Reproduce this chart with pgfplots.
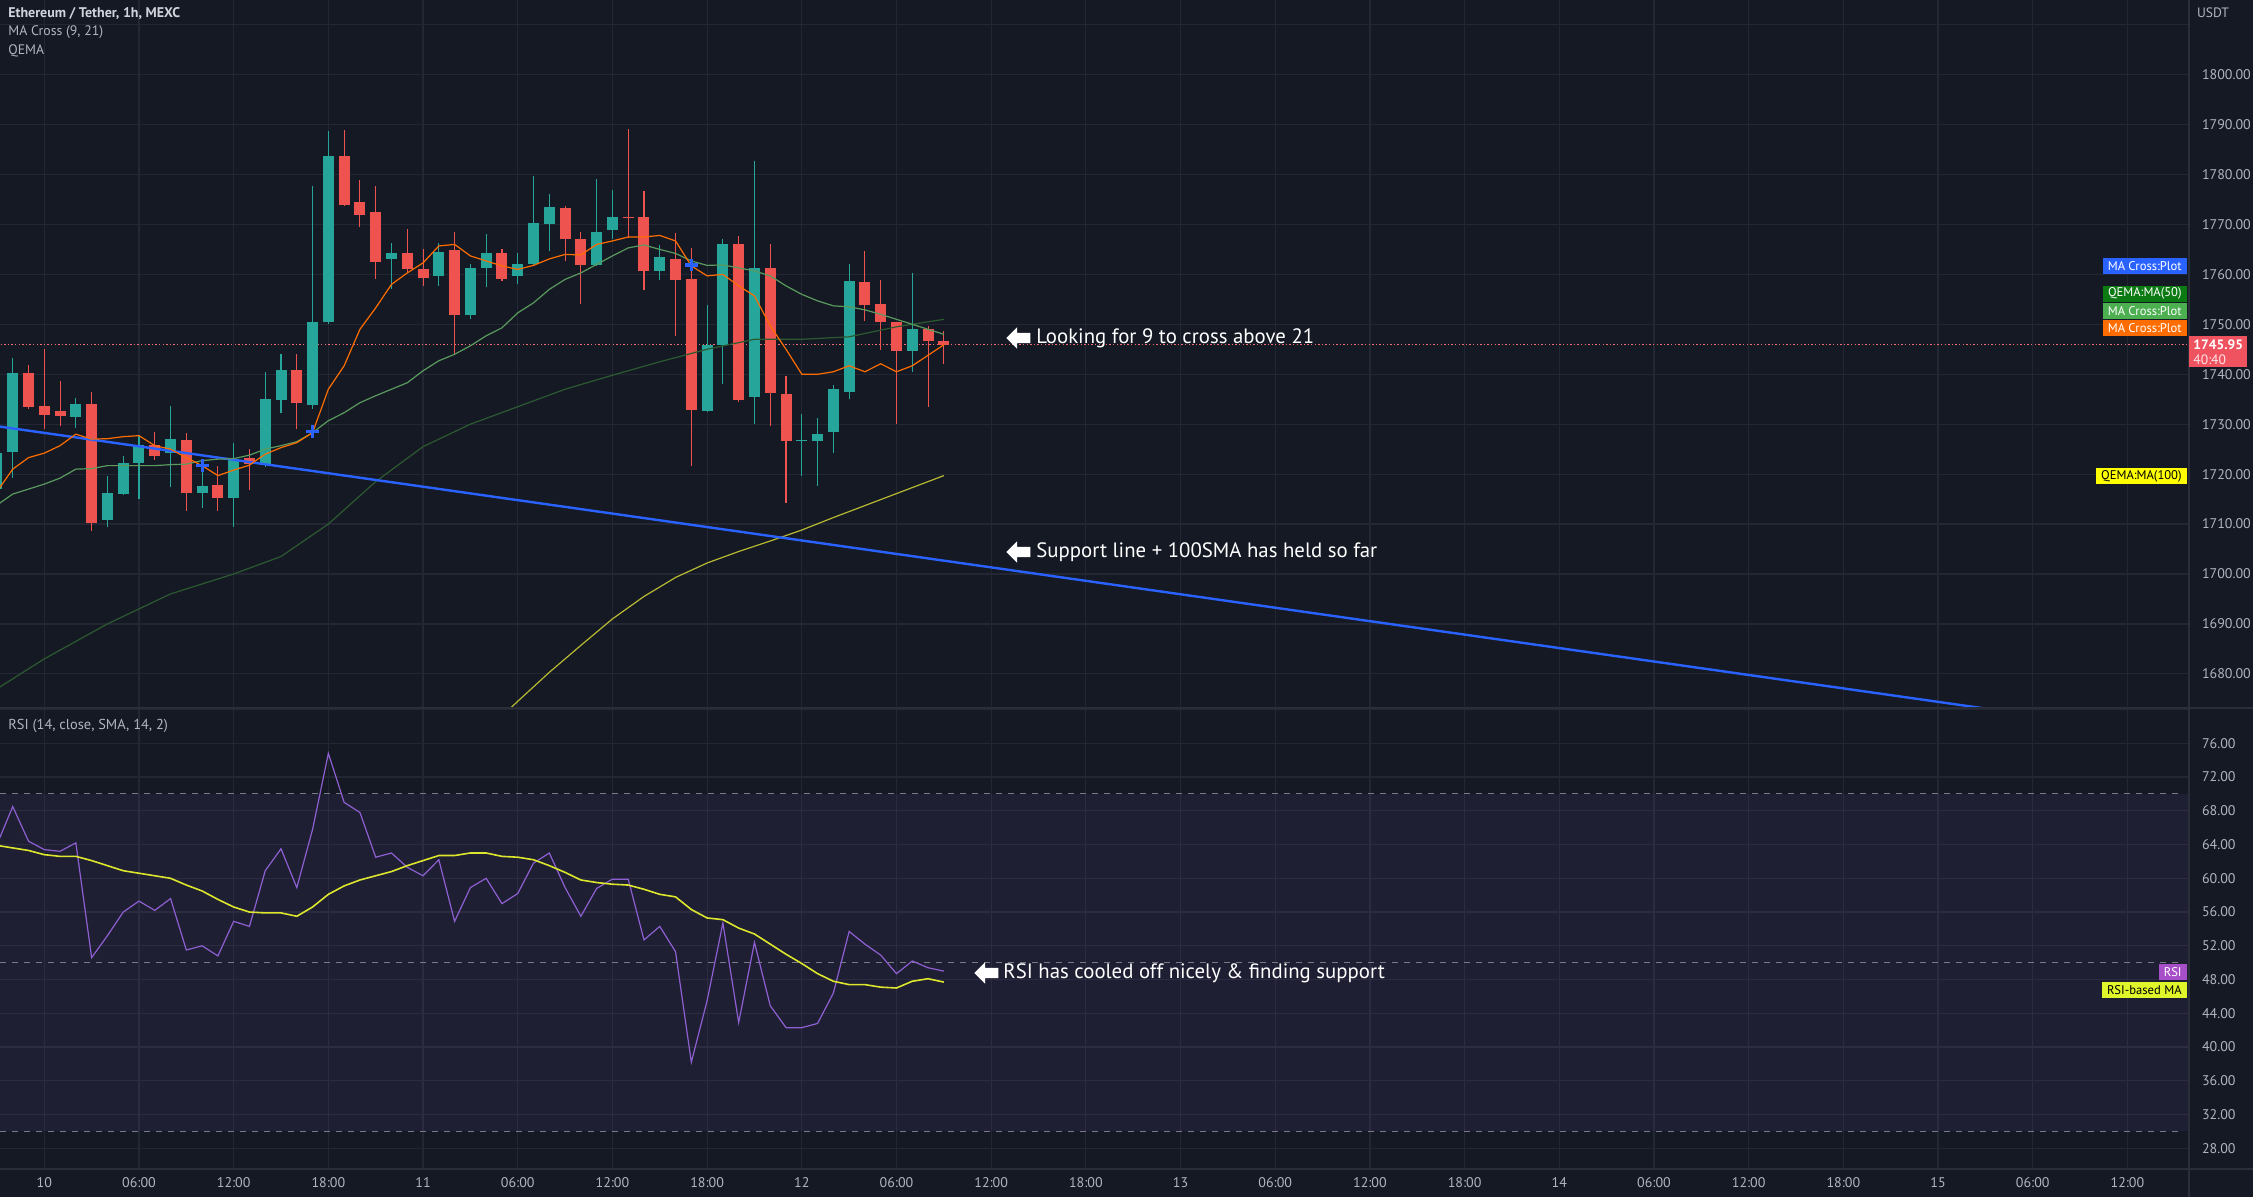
\documentclass[border=0pt]{standalone}
\usepackage{fontspec}
\setmainfont{PT Sans}
\usepackage{pgfplots}
\pgfplotsset{compat=1.18}
\usepackage{pgfplotstable}
\usetikzlibrary{shapes.arrows}

\definecolor{bg}{HTML}{151924}
\definecolor{gridc}{HTML}{232733}
\definecolor{sepc}{HTML}{2A2E39}
\definecolor{lbl}{HTML}{B2B5BE}
\definecolor{ttl}{HTML}{D1D4DC}
\definecolor{bull}{HTML}{26A69A}
\definecolor{bear}{HTML}{EF5350}
\definecolor{maorange}{HTML}{FF6D00}
\definecolor{magreen}{HTML}{5A9A5E}
\definecolor{madark}{HTML}{2C5A30}
\definecolor{mayellow}{HTML}{B8B832}
\definecolor{supblue}{HTML}{2962FF}
\definecolor{rsiline}{HTML}{8E5FD0}
\definecolor{rsima}{HTML}{DCE62C}
\definecolor{rsiband}{HTML}{7E57C2}
\definecolor{rsidash}{HTML}{787B86}
\definecolor{pricered}{HTML}{F05360}
\definecolor{lbldkgreen}{HTML}{0C7A12}
\definecolor{lblgreen}{HTML}{4CAF50}
\definecolor{lblyellow}{HTML}{FFFF00}
\definecolor{lblpurple}{HTML}{A64FC8}
\definecolor{lblrsima}{HTML}{E0F52A}

\newcommand\fs[1]{\fontsize{#1}{#1}\selectfont}

% t = hours since Jan 10 00:00
\pgfplotstableread{
t O H L C
-3 1717.0 1726.0 1715.0 1724.3
-2 1724.5 1743.3 1719.3 1740.3
2 1731.5 1735.2 1729.3 1734.0
4 1710.9 1719.7 1709.5 1716.3
5 1716.1 1723.7 1715.8 1722.3
6 1722.2 1727.8 1715.0 1725.8
8 1724.3 1733.7 1717.5 1727.0
10 1716.2 1721.7 1713.3 1717.7
12 1715.2 1726.3 1709.5 1723.1
14 1721.8 1740.5 1721.5 1735.0
15 1734.8 1744.0 1732.3 1740.8
17 1733.9 1777.7 1733.0 1750.5
18 1750.5 1788.7 1750.0 1783.8
22 1763.1 1766.2 1757.0 1764.3
25 1759.7 1766.2 1757.7 1764.5
27 1751.8 1762.1 1751.0 1761.3
28 1761.2 1768.0 1757.5 1764.3
30 1759.7 1764.3 1758.0 1762.0
31 1762.0 1779.8 1761.8 1770.2
32 1770.0 1776.1 1764.7 1773.5
35 1761.9 1779.1 1761.7 1768.5
36 1768.9 1777.0 1767.0 1771.5
39 1760.7 1765.8 1758.8 1763.5
42 1732.7 1753.8 1732.5 1745.9
43 1745.9 1767.1 1738.0 1766.0
45 1735.5 1782.7 1730.0 1761.3
48 1726.7 1732.0 1719.7 1726.9
49 1726.7 1731.3 1717.7 1728.0
50 1728.5 1737.8 1724.2 1737.0
51 1736.5 1762.0 1735.1 1758.7
55 1744.7 1760.2 1740.5 1749.0
}\bulltab

\pgfplotstableread{
t O H L C
-1 1740.2 1741.8 1733.0 1733.5
0 1733.7 1745.0 1729.0 1731.9
1 1732.6 1738.7 1729.7 1731.7
3 1734.0 1736.5 1708.7 1710.3
7 1725.8 1728.5 1722.9 1723.7
9 1726.8 1728.3 1712.7 1716.2
11 1717.8 1721.7 1712.7 1715.3
13 1723.3 1725.1 1716.9 1722.1
16 1740.8 1744.0 1729.0 1734.2
19 1783.8 1788.9 1773.7 1773.8
20 1774.5 1779.0 1769.5 1771.9
21 1772.5 1777.7 1759.1 1762.5
23 1764.3 1769.0 1760.5 1761.0
24 1761.1 1765.0 1757.7 1759.2
26 1764.8 1768.5 1744.0 1751.8
29 1764.3 1765.0 1758.7 1759.1
33 1773.3 1773.7 1762.7 1767.0
34 1767.1 1768.5 1754.0 1761.9
37 1771.4 1789.1 1767.3 1771.2
38 1771.5 1776.7 1756.9 1760.7
40 1763.0 1768.3 1747.7 1758.8
41 1759.0 1765.3 1721.7 1732.9
44 1766.0 1767.7 1734.5 1734.8
46 1761.3 1766.0 1729.7 1736.3
47 1736.0 1739.7 1714.3 1726.7
52 1758.5 1764.7 1750.7 1753.8
53 1754.0 1758.9 1744.9 1750.5
54 1750.5 1750.5 1730.0 1744.7
56 1749.0 1749.7 1733.5 1746.7
57 1746.7 1748.7 1742.0 1745.9
}\beartab

\begin{document}
\begin{tikzpicture}
\fill[bg] (0,0) rectangle (1126.5pt,598.5pt);

% ---------------- main price panel ----------------
\begin{axis}[
  at={(0pt,244.35pt)}, anchor=south west,
  width=1094.5pt, height=354.15pt, scale only axis,
  xmin=-2.807, xmax=135.9, ymin=1673.1, ymax=1814.96,
  axis line style={draw=none}, major tick length=0pt,
  xtick={0,6,...,132}, xticklabels={},
  ytick={1680,1690,...,1800},
  extra y ticks={1810}, extra y tick labels={}, extra y tick style={grid=major},
  grid=major, major grid style={gridc, line width=0.6pt},
  yticklabel pos=right,
  yticklabel style={font=\fs{7}, text=lbl, anchor=west, xshift=3pt,
    /pgf/number format/fixed, /pgf/number format/fixed zerofill,
    /pgf/number format/precision=2, /pgf/number format/1000 sep={},
    /pgf/number format/assume math mode=true},
]
% current price line
\addplot[pricered!85!white, line width=0.6pt, dash pattern=on 0.7pt off 1.1pt] coordinates {(-3,1745.95) (137,1745.95)};

% wicks
\addplot[draw=none, mark=none, forget plot, error bars/.cd, y dir=plus, y explicit, error mark=none,
  error bar style={draw=bull, line width=0.55pt}]
  table[x=t, y=L, y error plus expr=\thisrow{H}-\thisrow{L}] {\bulltab};
\addplot[draw=none, mark=none, forget plot, error bars/.cd, y dir=plus, y explicit, error mark=none,
  error bar style={draw=bear, line width=0.55pt}]
  table[x=t, y=L, y error plus expr=\thisrow{H}-\thisrow{L}] {\beartab};
% bodies
\addplot[draw=none, mark=none, forget plot, error bars/.cd, y dir=plus, y explicit, error mark=none,
  error bar style={draw=bull, line width=5.5pt}]
  table[x=t, y=O, y error plus expr=\thisrow{C}-\thisrow{O}] {\bulltab};
\addplot[draw=none, mark=none, forget plot, error bars/.cd, y dir=plus, y explicit, error mark=none,
  error bar style={draw=bear, line width=5.5pt}]
  table[x=t, y=C, y error plus expr=\thisrow{O}-\thisrow{C}] {\beartab};

% QEMA MA(50)
\addplot[madark, line width=0.6pt] coordinates {
(-3,1677) (0,1683) (4,1690) (8,1696) (12,1700) (15,1703.5) (18,1710) (21,1718.5) (24,1725.5) (27,1730) (30,1733.5) (33,1737) (36,1739.8) (39,1742.5) (42,1745) (45,1747) (48,1747) (51,1747.5) (54,1749.5) (57,1751)};
% QEMA MA(100)
\addplot[mayellow, line width=0.6pt] coordinates {
(28,1668.5) (30,1674.5) (32,1680.3) (34,1685.7) (36,1691) (38,1695.5) (40,1699.3) (42,1702.2) (44,1704.5) (46,1706.6) (48,1708.8) (50,1711.3) (52,1713.7) (54,1716.1) (56,1718.5) (57,1719.7)};
% support line
\addplot[supblue, line width=1.2pt] coordinates {(-3,1729.6) (130,1669.9)};
% MA 21
\addplot[magreen, line width=0.6pt] coordinates {
(-3,1713.8) (-2,1716) (-1,1717) (0,1718) (1,1719.2) (2,1721) (3,1721.1) (4,1721.7) (5,1721.7) (6,1721.7) (7,1721.7) (8,1721.9) (9,1722) (10,1722.7) (11,1723) (12,1723.1) (13,1723.8) (14,1725) (15,1725.7) (16,1726.5) (17,1728.3) (18,1730.7) (19,1732.3) (20,1734.3) (21,1735.7) (22,1737) (23,1738.3) (24,1740.7) (25,1742.7) (26,1744) (27,1745.7) (28,1747.7) (29,1749.3) (30,1752.3) (31,1754.3) (32,1757) (33,1759) (34,1760.3) (35,1762) (36,1763.7) (37,1765.3) (38,1765.9) (39,1765) (40,1764.2) (41,1762.7) (42,1761.8) (43,1761.9) (44,1761.3) (45,1760.7) (46,1759.7) (47,1757.7) (48,1756) (49,1754.7) (50,1753.7) (51,1753.5) (52,1752.9) (53,1752) (54,1751) (55,1750) (56,1749) (57,1748)};
% MA 9
\addplot[maorange, line width=0.6pt] coordinates {
(-3,1716.5) (-2,1721) (-1,1723.3) (0,1724.2) (1,1725.7) (2,1728) (3,1727) (4,1727.1) (5,1727.5) (6,1727.7) (7,1725.7) (8,1725) (9,1723.3) (10,1721.7) (11,1719.7) (12,1720.8) (13,1721.8) (14,1724) (15,1725.3) (16,1726.3) (17,1728.3) (18,1737) (19,1741.7) (20,1749) (21,1753.3) (22,1758) (23,1760.3) (24,1762.3) (25,1765.7) (26,1766) (27,1763.7) (28,1762.7) (29,1761.7) (30,1761) (31,1761.8) (32,1763.1) (33,1764) (34,1763.9) (35,1766) (36,1766.7) (37,1767.5) (38,1767.5) (39,1767.8) (40,1766.7) (41,1761.7) (42,1759.7) (43,1760) (44,1757.7) (45,1755.7) (46,1749.7) (47,1745) (48,1740) (49,1740) (50,1740.5) (51,1741.7) (52,1740.5) (53,1742.1) (54,1740.5) (55,1741.7) (56,1743.8) (57,1745.9)};
% cross markers
\addplot[only marks, mark=+, mark size=3.2pt, supblue, line width=1.6pt] coordinates {(10,1721.7) (17,1728.5) (41,1761.9)};
\end{axis}

% ---------------- RSI panel ----------------
\begin{axis}[
  at={(0pt,14pt)}, anchor=south west,
  width=1094.5pt, height=230.35pt, scale only axis,
  xmin=-2.807, xmax=135.9, ymin=25.55, ymax=80.15,
  axis line style={draw=none}, major tick length=0pt,
  xtick={0,6,...,132},
  xticklabels={10,06:00,12:00,18:00,11,06:00,12:00,18:00,12,06:00,12:00,18:00,13,06:00,12:00,18:00,14,06:00,12:00,18:00,15,06:00,12:00},
  xticklabel style={font=\fs{7}, text=lbl, anchor=base, yshift=-9.5pt},
  ytick={28,32,...,76},
  extra y ticks={80}, extra y tick labels={}, extra y tick style={grid=major},
  grid=major, major grid style={gridc, line width=0.6pt},
  yticklabel pos=right,
  yticklabel style={font=\fs{7}, text=lbl, anchor=west, xshift=3pt,
    /pgf/number format/fixed, /pgf/number format/fixed zerofill,
    /pgf/number format/precision=2,
    /pgf/number format/assume math mode=true},
]
\addplot[draw=none, fill=rsiband, fill opacity=0.1] coordinates {(-3,30) (137,30) (137,70) (-3,70)} -- cycle;
\addplot[rsidash, line width=0.5pt, dash pattern=on 3pt off 3pt] coordinates {(-2.807,70) (135.3,70)};
\addplot[rsidash, line width=0.5pt, dash pattern=on 3pt off 3pt] coordinates {(-2.807,50) (135.3,50)};
\addplot[rsidash, line width=0.5pt, dash pattern=on 3pt off 3pt] coordinates {(-2.807,30) (135.3,30)};
% RSI
\addplot[rsiline, line width=0.6pt] coordinates {
(-3,64.0) (-2,68.5) (-1,64.4) (0,63.4) (1,63.2) (2,64.2) (3,50.6) (4,53.2) (5,56.0) (6,57.3) (7,56.2) (8,57.6) (9,51.5) (10,52.0) (11,50.8) (12,54.9) (13,54.3) (14,60.9) (15,63.5) (16,58.9) (17,65.8) (18,74.8) (19,69.0) (20,67.8) (21,62.5) (22,63.0) (23,61.3) (24,60.3) (25,62.2) (26,54.9) (27,58.9) (28,60.0) (29,57.0) (30,58.2) (31,61.8) (32,63.0) (33,58.9) (34,55.5) (35,58.8) (36,59.9) (37,59.9) (38,52.7) (39,54.3) (40,51.3) (41,38.2) (42,45.5) (43,54.7) (44,42.9) (45,52.4) (46,44.9) (47,42.3) (48,42.3) (49,42.8) (50,46.4) (51,53.7) (52,52.2) (53,50.9) (54,48.7) (55,50.2) (56,49.4) (57,49.0)};
% RSI-based MA
\addplot[rsima, line width=0.8pt] coordinates {
(-3,63.9) (-2,63.6) (-1,63.3) (0,62.8) (1,62.6) (2,62.6) (3,62.1) (4,61.5) (5,60.9) (6,60.6) (7,60.3) (8,60.0) (9,59.2) (10,58.5) (11,57.5) (12,56.6) (13,56.0) (14,55.9) (15,55.9) (16,55.5) (17,56.6) (18,58.1) (19,59.1) (20,59.8) (21,60.3) (22,60.8) (23,61.5) (24,62.1) (25,62.7) (26,62.7) (27,63.0) (28,63.0) (29,62.6) (30,62.5) (31,62.2) (32,61.5) (33,60.7) (34,59.8) (35,59.5) (36,59.3) (37,59.2) (38,58.7) (39,58.1) (40,57.8) (41,56.3) (42,55.3) (43,55.1) (44,54.1) (45,53.4) (46,52.2) (47,51.0) (48,49.9) (49,48.7) (50,47.8) (51,47.4) (52,47.4) (53,47.1) (54,47.0) (55,47.8) (56,48.1) (57,47.7)};
\end{axis}

% ---------------- separators ----------------
\draw[sepc, line width=0.8pt] (0,244.35pt) -- (1126.5pt,244.35pt);
\draw[sepc, line width=0.6pt] (0,14pt) -- (1126.5pt,14pt);
\draw[sepc, line width=0.6pt] (1094.5pt,0pt) -- (1094.5pt,598.5pt);

% ---------------- legends top-left ----------------
\node[anchor=west, inner sep=0pt, text=ttl, font=\fs{7.0}\bfseries] at (4pt,591.5pt) {Ethereum / Tether, 1h, MEXC};
\node[anchor=west, inner sep=0pt, text=lbl, font=\fs{6.9}] at (4pt,582.2pt) {MA Cross (9, 21)};
\node[anchor=west, inner sep=0pt, text=lbl, font=\fs{6.9}] at (4pt,572.9pt) {QEMA};
\node[anchor=west, inner sep=0pt, text=lbl, font=\fs{7.2}] at (4pt,235.5pt) {RSI (14, close, SMA, 14, 2)};
\node[anchor=center, inner sep=0pt, text=lbl, font=\fs{6.8}] at (1106.5pt,592pt) {USDT};

% ---------------- annotations ----------------
\tikzset{warrow/.style={single arrow, fill=white, draw=none, shape border rotate=180, inner sep=2.4pt, minimum height=12pt, single arrow head extend=2.8pt, single arrow head indent=0pt}}
\node[warrow] at (510.5pt,429.5pt) {};
\node[anchor=west, inner sep=0pt, text=white, font=\fs{10.4}] at (518pt,429.5pt) {Looking for 9 to cross above 21};
\node[warrow] at (510.5pt,322.5pt) {};
\node[anchor=west, inner sep=0pt, text=white, font=\fs{10.4}] at (518pt,322.5pt) {Support line + 100SMA has held so far};
\node[warrow] at (494.5pt,112pt) {};
\node[anchor=west, inner sep=0pt, text=white, font=\fs{10.4}] at (501.5pt,112pt) {RSI has cooled off nicely \& finding support};

% ---------------- right-hand labels ----------------
\tikzset{tag/.style={anchor=east, inner xsep=2.5pt, inner ysep=0pt, minimum height=8pt, font=\fs{6.3}}}
\node[tag, fill=supblue, text=white] at (1093.5pt,465.3pt) {MA Cross:Plot};
\node[tag, fill=lbldkgreen, text=white] at (1093.5pt,451.6pt) {QEMA:MA(50)};
\node[tag, fill=lblgreen, text=white] at (1093.5pt,443pt) {MA Cross:Plot};
\node[tag, fill=maorange, text=white] at (1093.5pt,434.3pt) {MA Cross:Plot};
\node[tag, fill=lblyellow, text=black] at (1093.5pt,360.3pt) {QEMA:MA(100)};
\node[tag, fill=lblpurple, text=white] at (1093.5pt,112.3pt) {RSI};
\node[tag, fill=lblrsima, text=black] at (1093.5pt,103.5pt) {RSI-based MA};
\fill[pricered] (1094.5pt,414.9pt) rectangle (1123.5pt,430.3pt);
\node[anchor=west, inner sep=0pt, text=white, font=\fs{6.8}\bfseries] at (1096.5pt,426.3pt) {1745.95};
\node[anchor=west, inner sep=0pt, text=white!85!pricered, font=\fs{6.8}] at (1096.5pt,418.8pt) {40:40};

\pgfresetboundingbox
\useasboundingbox (0,0) rectangle (1126.5pt,598.5pt);
\end{tikzpicture}
\end{document}
